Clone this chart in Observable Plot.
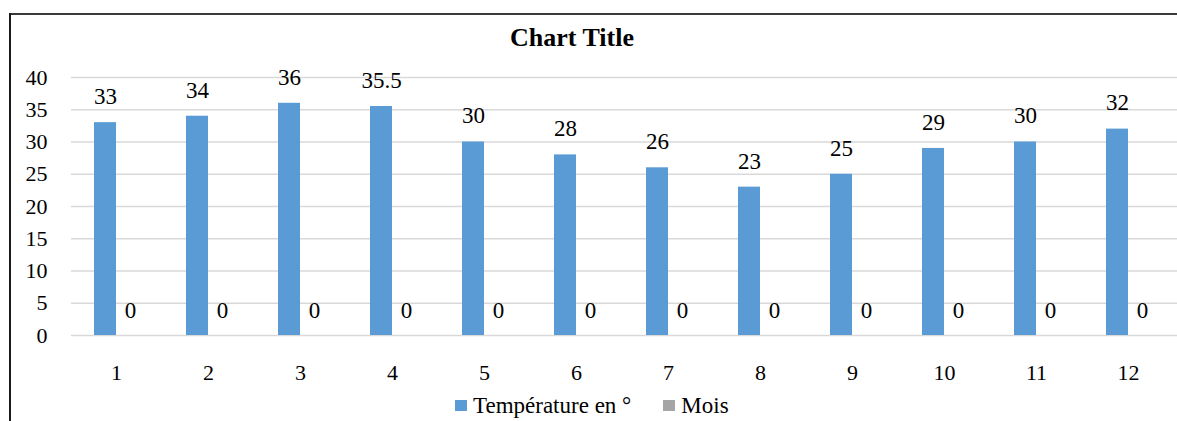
<!DOCTYPE html>
<html>
<head>
<meta charset="utf-8">
<script src="https://cdn.jsdelivr.net/npm/d3@7"></script>
<script src="https://cdn.jsdelivr.net/npm/@observablehq/plot@0.6"></script>
<style>
  html, body { margin: 0; padding: 0; background: #fff; }
  #wrap { position: relative; width: 1177px; height: 421px; overflow: hidden; background: #fff;
          font-family: "Liberation Serif", "Times New Roman", serif; color: #000; }
  #frameTop { position: absolute; left: 10px; top: 13px; width: 1180px; height: 0; border-top: 2px solid #3a3a3a; }
  #frameLeft { position: absolute; left: 9px; top: 13px; width: 0; height: 420px; border-left: 2px solid #1a1a1a; }
  #title { position: absolute; left: 0; width: 1144px; top: 25px; text-align: center; font-weight: bold;
           font-size: 26px; line-height: 1; }
  #chart { position: absolute; left: 0; top: 0; width: 1190px; height: 390px; }
  #chart svg { max-width: none !important; width: 1190px; height: 390px; }
  #legend { position: absolute; left: 455px; top: 394px; display: flex; align-items: center; font-size: 23px; line-height: 1; white-space: nowrap; }
  .sw { display: inline-block; width: 12px; height: 11px; margin-right: 6px; }
  .item { display: flex; align-items: center; margin-right: 32px; }
</style>
</head>
<body>
<div id="wrap">
  <div id="frameTop"></div>
  <div id="frameLeft"></div>
  <div id="title">Chart Title</div>
  <div id="chart"></div>
  <div id="legend"></div>
</div>
<script>
// ---- data ----
const months = [1, 2, 3, 4, 5, 6, 7, 8, 9, 10, 11, 12];
const temperatures = [33, 34, 36, 35.5, 30, 28, 26, 23, 25, 29, 30, 32];
const mois = [0, 0, 0, 0, 0, 0, 0, 0, 0, 0, 0, 0];
const yTicks = [0, 5, 10, 15, 20, 25, 30, 35, 40];
const seriesNames = ["Température en °", "Mois"];
const seriesColors = ["#5B9BD5", "#A5A5A5"];

const rows = months.map((m, i) => ({ month: m, temp: temperatures[i], mois: mois[i] }));

const serif = '"Liberation Serif", "Times New Roman", serif';

const chart = Plot.plot({
  width: 1190,
  height: 390,
  marginLeft: 69,
  marginRight: 15,
  marginTop: 77,
  marginBottom: 55,
  style: { fontFamily: serif, fontSize: "22px", color: "#000", background: "transparent", overflow: "visible", maxWidth: "none" },
  x: { type: "band", domain: months, padding: 0 },
  y: { domain: [0, 40] },
  marks: [
    Plot.ruleY(yTicks, { stroke: "#d9d9d9", strokeWidth: 1.5, insetLeft: 2, insetRight: -3 }),
    Plot.axisY(yTicks, { tickSize: 0, tickPadding: 22, fontSize: 22, fontFamily: serif, fill: "#000", label: null }),
    Plot.axisX({ tickSize: 0, tickPadding: 29, fontSize: 22, fontFamily: serif, fill: "#000", label: null }),
    Plot.barY(rows, { x: "month", y: "temp", fill: seriesColors[0], insetLeft: 24, insetRight: 46 }),
    Plot.barY(rows, { x: "month", y: "mois", fill: seriesColors[1], insetLeft: 46, insetRight: 24 }),
    Plot.text(rows, { x: "month", y: "temp", text: d => String(d.temp), dx: -11, dy: -26, fontSize: 23, fontFamily: serif, fill: "#000" }),
    Plot.text(rows, { x: "month", y: "mois", text: d => String(d.mois), dx: 14, dy: -25, fontSize: 23, fontFamily: serif, fill: "#000" })
  ]
});
document.getElementById("chart").appendChild(chart);

const legend = document.getElementById("legend");
seriesNames.forEach((name, i) => {
  const item = document.createElement("span");
  item.className = "item";
  const sw = document.createElement("span");
  sw.className = "sw";
  sw.style.background = seriesColors[i];
  const label = document.createElement("span");
  label.textContent = name;
  item.appendChild(sw);
  item.appendChild(label);
  legend.appendChild(item);
});
</script>
</body>
</html>
